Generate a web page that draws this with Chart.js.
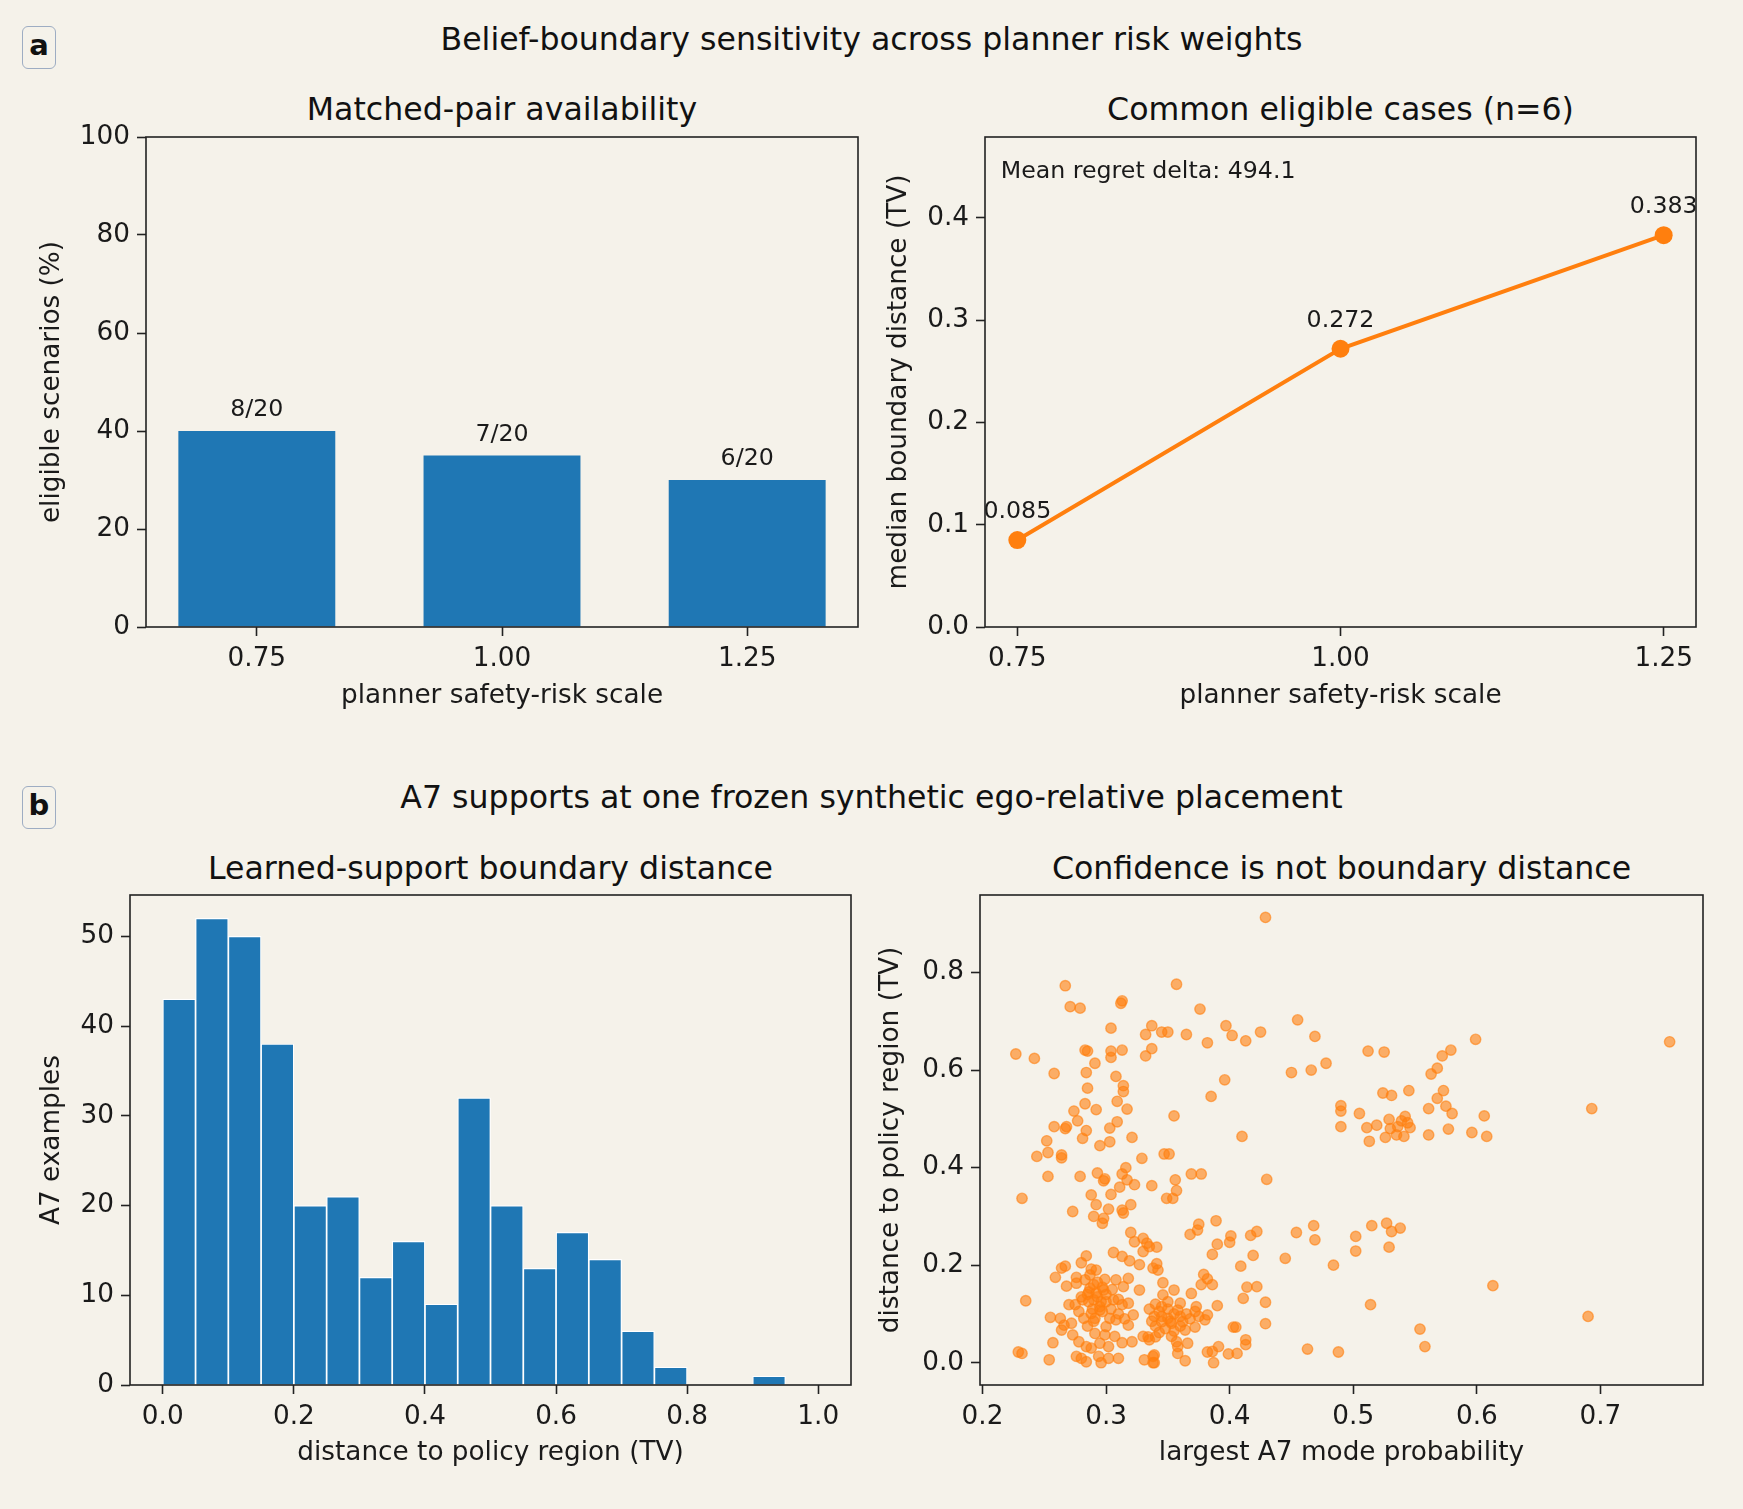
<!DOCTYPE html>
<html lang="en">
<head>
  <meta charset="UTF-8" />
  <title>Belief-boundary sensitivity across planner risk weights</title>
  <script src="https://cdn.jsdelivr.net/npm/chart.js"></script>
  <style>
    * { margin: 0; padding: 0; box-sizing: border-box; }
    body {
      background: #f5f2ea;
      width: 1743px;
      height: 1509px;
      overflow: hidden;
      font-family: 'DejaVu Sans', sans-serif;
      color: #111;
    }
    .fig { position: relative; width: 1743px; height: 1509px; }
    .plot { position: absolute; }
    .txt {
      position: absolute;
      transform: translate(-50%, -50%);
      white-space: nowrap;
      line-height: 1.164;
      font-size: 31.6px;
    }
    .panel {
      position: absolute;
      border: 1.5px solid #9eadc3;
      border-radius: 6px;
      font-weight: bold;
      font-size: 29px;
      line-height: 1;
      display: flex;
      align-items: center;
      justify-content: center;
      padding-bottom: 4px;
    }
  </style>
</head>
<body>
<div class="fig">
  <div class="panel" style="left:22px; top:26px; width:34px; height:43px;">a</div>
  <div class="txt" style="left:871.5px; top:39px;">Belief-boundary sensitivity across planner risk weights</div>
  <div class="txt" style="left:502px; top:109px;">Matched-pair availability</div>
  <div class="txt" style="left:1340.5px; top:109px;">Common eligible cases (n=6)</div>

  <div class="panel" style="left:22px; top:786px; width:34px; height:43px;">b</div>
  <div class="txt" style="left:871.5px; top:797px;">A7 supports at one frozen synthetic ego-relative placement</div>
  <div class="txt" style="left:490.5px; top:868px;">Learned-support boundary distance</div>
  <div class="txt" style="left:1341.5px; top:868px;">Confidence is not boundary distance</div>

  <div class="plot" style="left:0px; top:107px; width:878px; height:605px;"><canvas id="barChart"></canvas></div>
  <div class="plot" style="left:880px; top:107px; width:836px; height:605px;"><canvas id="lineChart"></canvas></div>
  <div class="plot" style="left:0px; top:865px; width:871px; height:604px;"><canvas id="histChart"></canvas></div>
  <div class="plot" style="left:872px; top:865px; width:851px; height:604px;"><canvas id="scatterChart"></canvas></div>
</div>

<script>
  // ---- data ----
  const riskScales = [0.75, 1.00, 1.25];
  const eligiblePct = [40, 35, 30];
  const eligibleLabels = ['8/20', '7/20', '6/20'];

  const medianDist = [0.085, 0.272, 0.383];
  const medianLabels = ['0.085', '0.272', '0.383'];
  const meanRegretText = 'Mean regret delta: 494.1';

  const histCenters = [0.025, 0.075, 0.125, 0.175, 0.225, 0.275, 0.325, 0.375, 0.425, 0.475,
                       0.525, 0.575, 0.625, 0.675, 0.725, 0.775, 0.825, 0.875, 0.925, 0.975];
  const histCounts = [43, 52, 50, 38, 20, 21, 12, 16, 9, 32, 20, 13, 17, 14, 6, 2, 0, 0, 1, 0];

  // [largest A7 mode probability, distance to policy region (TV)]
  const a7Points = [
    [0.469,0.669],[0.466,0.600],[0.478,0.614],[0.512,0.639],[0.525,0.637],[0.599,0.663],[0.579,0.641],
    [0.572,0.629],[0.568,0.604],[0.563,0.592],[0.756,0.658],[0.524,0.553],[0.531,0.548],[0.545,0.558],
    [0.573,0.558],[0.568,0.542],[0.575,0.526],[0.580,0.511],[0.561,0.521],[0.606,0.506],[0.693,0.521],
    [0.490,0.527],[0.490,0.516],[0.505,0.511],[0.490,0.484],[0.511,0.482],[0.519,0.487],[0.513,0.454],
    [0.526,0.462],[0.529,0.499],[0.542,0.505],[0.546,0.482],[0.536,0.484],[0.535,0.467],[0.541,0.464],
    [0.530,0.480],[0.539,0.496],[0.544,0.492],[0.561,0.467],[0.577,0.479],[0.596,0.472],[0.608,0.464],
    [0.468,0.281],[0.469,0.252],[0.515,0.281],[0.527,0.286],[0.531,0.269],[0.538,0.276],[0.502,0.259],
    [0.502,0.229],[0.529,0.237],[0.484,0.200],[0.613,0.158],[0.514,0.119],[0.690,0.095],[0.554,0.069],
    [0.558,0.033],[0.488,0.022],[0.463,0.028],
    [0.429,0.913],[0.267,0.773],[0.357,0.776],[0.271,0.730],[0.279,0.727],[0.313,0.742],[0.312,0.737],
    [0.376,0.725],[0.304,0.686],[0.337,0.691],[0.332,0.673],[0.345,0.678],[0.350,0.678],[0.365,0.673],
    [0.382,0.656],[0.397,0.691],[0.402,0.671],[0.413,0.660],[0.425,0.678],[0.455,0.703],[0.450,0.595],
    [0.227,0.633],[0.242,0.624],[0.258,0.593],[0.283,0.641],[0.285,0.639],[0.304,0.639],[0.313,0.641],
    [0.304,0.626],[0.291,0.614],[0.332,0.629],[0.337,0.644],[0.284,0.595],[0.308,0.587],[0.314,0.568],
    [0.314,0.556],[0.285,0.563],[0.396,0.580],[0.385,0.546],[0.309,0.536],[0.283,0.531],[0.274,0.516],
    [0.292,0.519],[0.317,0.520],[0.277,0.496],[0.355,0.506],[0.258,0.484],[0.267,0.480],[0.268,0.484],
    [0.284,0.476],[0.281,0.460],[0.303,0.481],[0.309,0.494],[0.321,0.462],[0.252,0.455],[0.295,0.445],
    [0.303,0.453],[0.410,0.464],[0.244,0.423],[0.253,0.431],[0.264,0.426],[0.264,0.420],[0.329,0.419],
    [0.347,0.428],[0.351,0.428],[0.253,0.382],[0.279,0.382],[0.293,0.389],[0.299,0.377],[0.298,0.373],
    [0.316,0.400],[0.313,0.387],[0.317,0.375],[0.323,0.365],[0.311,0.360],[0.337,0.363],[0.356,0.375],
    [0.357,0.353],[0.369,0.387],[0.377,0.387],[0.430,0.376],[0.232,0.337],[0.288,0.344],[0.304,0.345],
    [0.349,0.337],[0.354,0.337],
    [0.389,0.291],[0.375,0.284],[0.374,0.272],[0.368,0.263],[0.401,0.260],[0.400,0.247],[0.417,0.261],
    [0.422,0.269],[0.454,0.267],[0.390,0.243],[0.386,0.222],[0.419,0.220],[0.445,0.214],[0.409,0.198],
    [0.341,0.237],[0.341,0.203],[0.342,0.190],[0.346,0.164],[0.355,0.149],[0.346,0.139],[0.379,0.181],
    [0.382,0.172],[0.377,0.160],[0.386,0.160],[0.414,0.155],[0.422,0.156],[0.411,0.132],[0.429,0.124],
    [0.369,0.142],[0.360,0.122],[0.358,0.108],[0.373,0.115],[0.372,0.105],[0.390,0.117],[0.382,0.098],
    [0.380,0.088],[0.429,0.080],[0.339,0.095],[0.345,0.084],[0.350,0.091],[0.353,0.081],[0.362,0.084],
    [0.364,0.067],[0.403,0.073],[0.405,0.073],[0.372,0.073],[0.334,0.053],[0.340,0.053],[0.353,0.054],
    [0.357,0.043],[0.366,0.040],[0.413,0.047],[0.413,0.037],[0.391,0.033],[0.382,0.022],[0.386,0.023],
    [0.399,0.018],[0.406,0.019],[0.358,0.019],[0.358,0.033],[0.364,0.004],[0.387,0.000],[0.339,0.016],
    [0.339,0.000],[0.340,0.120],[0.345,0.115],[0.350,0.110],[0.355,0.100],[0.343,0.105],[0.360,0.095],
    [0.365,0.100],[0.335,0.110],[0.350,0.125],[0.340,0.075],[0.348,0.070],[0.355,0.065],
    [0.345,0.095],[0.352,0.085],[0.360,0.075],[0.368,0.090],[0.337,0.085],[0.343,0.062],[0.375,0.095],
    [0.273,0.310],[0.292,0.324],[0.302,0.315],[0.290,0.300],[0.297,0.286],[0.298,0.296],[0.313,0.313],
    [0.314,0.307],[0.320,0.324],[0.320,0.267],[0.323,0.248],[0.330,0.255],[0.333,0.245],[0.330,0.228],
    [0.327,0.201],[0.335,0.238],[0.338,0.194],[0.306,0.226],[0.313,0.218],[0.319,0.209],[0.284,0.219],
    [0.280,0.205],[0.292,0.190],[0.288,0.192],[0.267,0.198],[0.264,0.194],[0.259,0.175],[0.276,0.175],
    [0.276,0.163],[0.268,0.157],[0.299,0.171],[0.308,0.170],[0.318,0.173],[0.314,0.156],[0.287,0.153],
    [0.292,0.143],[0.298,0.149],[0.290,0.129],[0.295,0.115],[0.327,0.149],[0.306,0.129],[0.313,0.119],
    [0.318,0.122],[0.235,0.127],[0.270,0.119],[0.275,0.119],[0.281,0.129],[0.282,0.091],[0.288,0.101],
    [0.295,0.108],[0.255,0.093],[0.263,0.091],[0.266,0.077],[0.264,0.067],[0.272,0.081],[0.273,0.057],
    [0.291,0.091],[0.303,0.091],[0.300,0.074],[0.322,0.098],[0.318,0.077],[0.308,0.088],[0.291,0.060],
    [0.299,0.057],[0.307,0.054],[0.302,0.033],[0.295,0.040],[0.278,0.043],[0.284,0.033],[0.288,0.030],
    [0.313,0.041],[0.321,0.043],[0.330,0.054],[0.335,0.047],[0.257,0.041],[0.232,0.019],[0.229,0.022],
    [0.254,0.006],[0.276,0.013],[0.280,0.009],[0.284,0.002],[0.294,0.013],[0.296,0.000],[0.302,0.009],
    [0.310,0.009],[0.331,0.006],[0.338,0.013],[0.338,0.000],[0.290,0.160],[0.293,0.135],[0.296,0.125],
    [0.289,0.110],[0.300,0.140],[0.285,0.140],[0.297,0.105],[0.286,0.125],
    [0.283,0.170],[0.287,0.180],[0.293,0.165],[0.297,0.155],[0.286,0.145],[0.280,0.135],[0.300,0.125],
    [0.304,0.110],[0.310,0.100],[0.315,0.090],[0.290,0.085],[0.285,0.075],[0.310,0.130],[0.305,0.150],
    [0.278,0.105]
  ];

  // tick values
  const barTicksX = [0.75, 1.00, 1.25];
  const barTicksY = [0, 20, 40, 60, 80, 100];
  const lineTicksX = [0.75, 1.00, 1.25];
  const lineTicksY = [0.0, 0.1, 0.2, 0.3, 0.4];
  const histTicksX = [0.0, 0.2, 0.4, 0.6, 0.8, 1.0];
  const histTicksY = [0, 10, 20, 30, 40, 50];
  const scatterTicksX = [0.2, 0.3, 0.4, 0.5, 0.6, 0.7];
  const scatterTicksY = [0.0, 0.2, 0.4, 0.6, 0.8];

  // ---- styling ----
  const INK = '#1a1a1a';
  const BLUE = '#1f77b4';
  const ORANGE = '#ff7f0e';
  const TICK_FONT = 26.3;
  const NOTE_FONT = 23.7;

  Chart.defaults.font.family = "'DejaVu Sans', sans-serif";
  Chart.defaults.color = INK;

  // full frame round the plot area, like matplotlib spines
  const framePlugin = {
    id: 'frame',
    afterDraw(chart) {
      const { ctx, chartArea: a } = chart;
      ctx.save();
      ctx.strokeStyle = '#222';
      ctx.lineWidth = 1.6;
      ctx.strokeRect(a.left, a.top, a.right - a.left, a.bottom - a.top);
      ctx.restore();
    }
  };

  // text labels above each mark
  const markLabels = {
    id: 'markLabels',
    afterDatasetsDraw(chart, args, opts) {
      if (!opts.labels) return;
      const { ctx } = chart;
      const els = chart.getDatasetMeta(0).data;
      ctx.save();
      ctx.font = NOTE_FONT + "px 'DejaVu Sans'";
      ctx.fillStyle = INK;
      ctx.textAlign = 'center';
      ctx.textBaseline = 'alphabetic';
      els.forEach((el, i) => ctx.fillText(opts.labels[i], el.x, el.y - opts.gap));
      if (opts.note) {
        ctx.textAlign = 'left';
        ctx.fillText(opts.note, chart.chartArea.left + 15.7, chart.chartArea.top + 41);
      }
      ctx.restore();
    }
  };

  function axis(o) {
    return {
      type: 'linear',
      min: o.min,
      max: o.max,
      offset: false,
      border: { display: false },
      grid: {
        offset: false,
        drawOnChartArea: false,
        drawTicks: true,
        tickLength: 9,
        tickWidth: 1.6,
        tickColor: '#222'
      },
      ticks: {
        font: { size: TICK_FONT },
        color: INK,
        padding: 7,
        autoSkip: false,
        maxRotation: 0,
        callback: o.fmt
      },
      title: {
        display: true,
        text: o.title,
        font: { size: TICK_FONT },
        color: INK,
        padding: { top: o.titlePad || 0, bottom: 0 }
      },
      afterBuildTicks(s) { s.ticks = o.ticks.map(v => ({ value: v })); },
      afterFit(s) {
        if (o.horizontal) s.height = o.size;
        else s.width = o.size;
      }
    };
  }

  const base = {
    responsive: true,
    maintainAspectRatio: false,
    animation: false,
    events: [],
    layout: { padding: { top: 30, right: 20, left: 0, bottom: 0 } },
    plugins: { legend: { display: false }, tooltip: { enabled: false } }
  };

  // a: matched-pair availability
  new Chart(document.getElementById('barChart'), {
    type: 'bar',
    data: {
      datasets: [{
        data: riskScales.map((x, i) => ({ x, y: eligiblePct[i] })),
        backgroundColor: BLUE,
        borderWidth: 0,
        barPercentage: 0.64,
        categoryPercentage: 1.0
      }]
    },
    options: {
      ...base,
      plugins: { ...base.plugins, markLabels: { labels: eligibleLabels, gap: 15 } },
      scales: {
        x: axis({ min: 0.637, max: 1.363, ticks: barTicksX, horizontal: true, size: 85,
                  title: 'planner safety-risk scale', fmt: v => v.toFixed(2) }),
        y: axis({ min: 0, max: 100, ticks: barTicksY, size: 146, titlePad: 36.2,
                  title: 'eligible scenarios (%)', fmt: v => String(v) })
      }
    },
    plugins: [framePlugin, markLabels]
  });

  // a: common eligible cases
  new Chart(document.getElementById('lineChart'), {
    type: 'line',
    data: {
      datasets: [{
        data: riskScales.map((x, i) => ({ x, y: medianDist[i] })),
        borderColor: ORANGE,
        backgroundColor: ORANGE,
        borderWidth: 4,
        pointRadius: 9,
        pointBorderWidth: 0,
        pointBackgroundColor: ORANGE,
        tension: 0,
        clip: false
      }]
    },
    options: {
      ...base,
      plugins: { ...base.plugins, markLabels: { labels: medianLabels, gap: 22, note: meanRegretText } },
      scales: {
        x: axis({ min: 0.725, max: 1.275, ticks: lineTicksX, horizontal: true, size: 85,
                  title: 'planner safety-risk scale', fmt: v => v.toFixed(2) }),
        y: axis({ min: 0, max: 0.479, ticks: lineTicksY, size: 105, titlePad: 3.2,
                  title: 'median boundary distance (TV)', fmt: v => v.toFixed(1) })
      }
    },
    plugins: [framePlugin, markLabels]
  });

  // b: histogram of boundary distance
  new Chart(document.getElementById('histChart'), {
    type: 'bar',
    data: {
      datasets: [{
        data: histCenters.map((x, i) => ({ x, y: histCounts[i] })),
        backgroundColor: BLUE,
        borderColor: '#ffffff',
        borderWidth: 1.2,
        barPercentage: 1.0,
        categoryPercentage: 1.0
      }]
    },
    options: {
      ...base,
      scales: {
        x: axis({ min: -0.05, max: 1.05, ticks: histTicksX, horizontal: true, size: 84,
                  title: 'distance to policy region (TV)', fmt: v => v.toFixed(1) }),
        y: axis({ min: 0, max: 54.6, ticks: histTicksY, size: 130, titlePad: 36.2,
                  title: 'A7 examples', fmt: v => String(v) })
      }
    },
    plugins: [framePlugin]
  });

  // b: confidence vs boundary distance
  new Chart(document.getElementById('scatterChart'), {
    type: 'scatter',
    data: {
      datasets: [{
        data: a7Points.map(p => ({ x: p[0], y: p[1] })),
        pointRadius: 5.2,
        pointBorderWidth: 1.4,
        pointBackgroundColor: 'rgba(255,127,14,0.6)',
        pointBorderColor: 'rgba(255,127,14,0.6)'
      }]
    },
    options: {
      ...base,
      scales: {
        x: axis({ min: 0.198, max: 0.783, ticks: scatterTicksX, horizontal: true, size: 84,
                  title: 'largest A7 mode probability', fmt: v => v.toFixed(1) }),
        y: axis({ min: -0.0457, max: 0.959, ticks: scatterTicksY, size: 108, titlePad: 3.7,
                  title: 'distance to policy region (TV)', fmt: v => v.toFixed(1) })
      }
    },
    plugins: [framePlugin]
  });
</script>
</body>
</html>
